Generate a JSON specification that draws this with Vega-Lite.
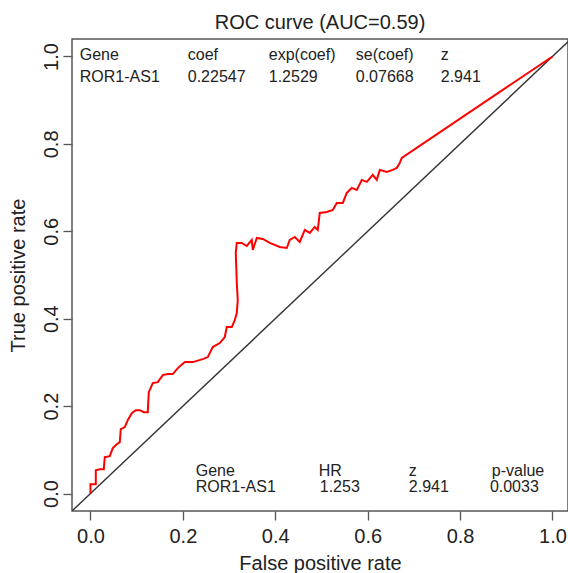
{
  "$schema": "https://vega.github.io/schema/vega-lite/v6.json",
  "width": 496,
  "height": 472,
  "autosize": {"type": "none"},
  "padding": {"left": 72, "top": 39, "right": 0, "bottom": 62},
  "config": {
    "view": {"stroke": "#555555", "strokeWidth": 1.5},
    "font": "Liberation Sans"
  },
  "title": {
    "text": "ROC curve (AUC=0.59)",
    "fontSize": 20,
    "fontWeight": "normal",
    "color": "#222222",
    "anchor": "middle",
    "baseline": "alphabetic",
    "offset": 8,
    "dy": 18
  },
  "datasets": {
    "roc": [
      {"i": 0, "fpr": 0, "tpr": 0},
      {"i": 1, "fpr": 0, "tpr": 0.0213},
      {"i": 2, "fpr": 0.0115, "tpr": 0.0213},
      {"i": 3, "fpr": 0.0115, "tpr": 0.0534},
      {"i": 4, "fpr": 0.0201, "tpr": 0.0557},
      {"i": 5, "fpr": 0.0288, "tpr": 0.0557},
      {"i": 6, "fpr": 0.031, "tpr": 0.0832},
      {"i": 7, "fpr": 0.0418, "tpr": 0.0855},
      {"i": 8, "fpr": 0.0483, "tpr": 0.1038},
      {"i": 9, "fpr": 0.0569, "tpr": 0.1129},
      {"i": 10, "fpr": 0.0634, "tpr": 0.1175},
      {"i": 11, "fpr": 0.0656, "tpr": 0.1473},
      {"i": 12, "fpr": 0.0742, "tpr": 0.1519},
      {"i": 13, "fpr": 0.0807, "tpr": 0.1679},
      {"i": 14, "fpr": 0.0894, "tpr": 0.1839},
      {"i": 15, "fpr": 0.0981, "tpr": 0.1908},
      {"i": 16, "fpr": 0.1067, "tpr": 0.1908},
      {"i": 17, "fpr": 0.1154, "tpr": 0.1862},
      {"i": 18, "fpr": 0.124, "tpr": 0.1862},
      {"i": 19, "fpr": 0.1262, "tpr": 0.232},
      {"i": 20, "fpr": 0.1348, "tpr": 0.2526},
      {"i": 21, "fpr": 0.1457, "tpr": 0.2549},
      {"i": 22, "fpr": 0.1565, "tpr": 0.271},
      {"i": 23, "fpr": 0.1673, "tpr": 0.2732},
      {"i": 24, "fpr": 0.1781, "tpr": 0.2732},
      {"i": 25, "fpr": 0.189, "tpr": 0.287},
      {"i": 26, "fpr": 0.2041, "tpr": 0.3007},
      {"i": 27, "fpr": 0.2214, "tpr": 0.3007},
      {"i": 28, "fpr": 0.2431, "tpr": 0.3076},
      {"i": 29, "fpr": 0.2539, "tpr": 0.3122},
      {"i": 30, "fpr": 0.2647, "tpr": 0.3351},
      {"i": 31, "fpr": 0.2799, "tpr": 0.3442},
      {"i": 32, "fpr": 0.2907, "tpr": 0.358},
      {"i": 33, "fpr": 0.295, "tpr": 0.3809},
      {"i": 34, "fpr": 0.3059, "tpr": 0.3809},
      {"i": 35, "fpr": 0.3123, "tpr": 0.3969},
      {"i": 36, "fpr": 0.3167, "tpr": 0.413},
      {"i": 37, "fpr": 0.3188, "tpr": 0.4427},
      {"i": 38, "fpr": 0.3167, "tpr": 0.4817},
      {"i": 39, "fpr": 0.3145, "tpr": 0.5504},
      {"i": 40, "fpr": 0.3167, "tpr": 0.5733},
      {"i": 41, "fpr": 0.3275, "tpr": 0.5733},
      {"i": 42, "fpr": 0.3383, "tpr": 0.5664},
      {"i": 43, "fpr": 0.3491, "tpr": 0.5802},
      {"i": 44, "fpr": 0.3513, "tpr": 0.5573},
      {"i": 45, "fpr": 0.36, "tpr": 0.5847},
      {"i": 46, "fpr": 0.373, "tpr": 0.5824},
      {"i": 47, "fpr": 0.3881, "tpr": 0.5733},
      {"i": 48, "fpr": 0.4097, "tpr": 0.5641},
      {"i": 49, "fpr": 0.4249, "tpr": 0.5618},
      {"i": 50, "fpr": 0.4314, "tpr": 0.5802},
      {"i": 51, "fpr": 0.4422, "tpr": 0.587},
      {"i": 52, "fpr": 0.453, "tpr": 0.5756},
      {"i": 53, "fpr": 0.4639, "tpr": 0.6031},
      {"i": 54, "fpr": 0.4747, "tpr": 0.5962},
      {"i": 55, "fpr": 0.4855, "tpr": 0.6099},
      {"i": 56, "fpr": 0.492, "tpr": 0.6031},
      {"i": 57, "fpr": 0.4963, "tpr": 0.642},
      {"i": 58, "fpr": 0.5115, "tpr": 0.6443},
      {"i": 59, "fpr": 0.5245, "tpr": 0.6489},
      {"i": 60, "fpr": 0.5331, "tpr": 0.6649},
      {"i": 61, "fpr": 0.5461, "tpr": 0.6649},
      {"i": 62, "fpr": 0.5548, "tpr": 0.6878},
      {"i": 63, "fpr": 0.5656, "tpr": 0.6993},
      {"i": 64, "fpr": 0.5764, "tpr": 0.6947},
      {"i": 65, "fpr": 0.5873, "tpr": 0.7176},
      {"i": 66, "fpr": 0.5981, "tpr": 0.713},
      {"i": 67, "fpr": 0.611, "tpr": 0.729},
      {"i": 68, "fpr": 0.6197, "tpr": 0.7176},
      {"i": 69, "fpr": 0.6262, "tpr": 0.7405},
      {"i": 70, "fpr": 0.6413, "tpr": 0.7359},
      {"i": 71, "fpr": 0.6543, "tpr": 0.7405},
      {"i": 72, "fpr": 0.663, "tpr": 0.7451},
      {"i": 73, "fpr": 0.6695, "tpr": 0.7565},
      {"i": 74, "fpr": 0.6738, "tpr": 0.768},
      {"i": 75, "fpr": 1, "tpr": 1}
    ],
    "diag": [
      {"fpr": -0.04, "tpr": -0.04},
      {"fpr": 1.04, "tpr": 1.04}
    ],
    "ann": [
      {"label": "Gene", "fpr": -0.0232, "tpr": 0.9924},
      {"label": "coef", "fpr": 0.2106, "tpr": 0.9924},
      {"label": "exp(coef)", "fpr": 0.3859, "tpr": 0.9924},
      {"label": "se(coef)", "fpr": 0.5742, "tpr": 0.9924},
      {"label": "z", "fpr": 0.7582, "tpr": 0.9924},
      {"label": "ROR1-AS1", "fpr": -0.0232, "tpr": 0.9427},
      {"label": "0.22547", "fpr": 0.2106, "tpr": 0.9427},
      {"label": "1.2529", "fpr": 0.3859, "tpr": 0.9427},
      {"label": "0.07668", "fpr": 0.5742, "tpr": 0.9427},
      {"label": "2.941", "fpr": 0.7582, "tpr": 0.9427},
      {"label": "Gene", "fpr": 0.2279, "tpr": 0.0403},
      {"label": "HR", "fpr": 0.494, "tpr": 0.0403},
      {"label": "z", "fpr": 0.689, "tpr": 0.0403},
      {"label": "p-value", "fpr": 0.8686, "tpr": 0.0403},
      {"label": "ROR1-AS1", "fpr": 0.2279, "tpr": 0.0037},
      {"label": "1.253", "fpr": 0.4963, "tpr": 0.0037},
      {"label": "2.941", "fpr": 0.689, "tpr": 0.0037},
      {"label": "0.0033", "fpr": 0.8645, "tpr": 0.0037}
    ]
  },
  "encoding": {
    "x": {
      "field": "fpr",
      "type": "quantitative",
      "scale": {"domain": [-0.04, 1.0336], "nice": false, "zero": false},
      "axis": {
        "title": "False positive rate",
        "values": [0, 0.2, 0.4, 0.6, 0.8, 1.0],
        "format": ".1f",
        "grid": false,
        "domain": false,
        "tickColor": "#555555",
        "tickSize": 9,
        "tickWidth": 1.3,
        "labelFontSize": 20,
        "labelColor": "#222222",
        "labelPadding": 6,
        "labelFlush": false,
        "labelOverlap": false,
        "labelBound": false,
        "titleFontSize": 20,
        "titleFontWeight": "normal",
        "titleColor": "#222222",
        "titleBaseline": "alphabetic",
        "titleY": 58
      }
    },
    "y": {
      "field": "tpr",
      "type": "quantitative",
      "scale": {"domain": [-0.04, 1.04], "nice": false, "zero": false},
      "axis": {
        "title": "True positive rate",
        "values": [0, 0.2, 0.4, 0.6, 0.8, 1.0],
        "format": ".1f",
        "grid": false,
        "domain": false,
        "tickColor": "#555555",
        "tickSize": 9,
        "tickWidth": 1.3,
        "labelFontSize": 20,
        "labelColor": "#222222",
        "labelAngle": -90,
        "labelAlign": "center",
        "labelBaseline": "alphabetic",
        "labelPadding": 6,
        "labelFlush": false,
        "labelOverlap": false,
        "labelBound": false,
        "titleFontSize": 20,
        "titleFontWeight": "normal",
        "titleColor": "#222222",
        "titleAngle": -90,
        "titleBaseline": "alphabetic",
        "titleX": -48
      }
    }
  },
  "layer": [
    {
      "data": {"name": "diag"},
      "mark": {"type": "line", "color": "#333333", "strokeWidth": 1.4, "clip": true}
    },
    {
      "data": {"name": "roc"},
      "mark": {"type": "line", "color": "#ff0000", "strokeWidth": 2},
      "encoding": {"order": {"field": "i", "type": "quantitative"}}
    },
    {
      "data": {"name": "ann"},
      "mark": {"type": "text", "align": "left", "baseline": "alphabetic", "fontSize": 16, "color": "#222222"},
      "encoding": {"text": {"field": "label", "type": "nominal"}}
    }
  ]
}
